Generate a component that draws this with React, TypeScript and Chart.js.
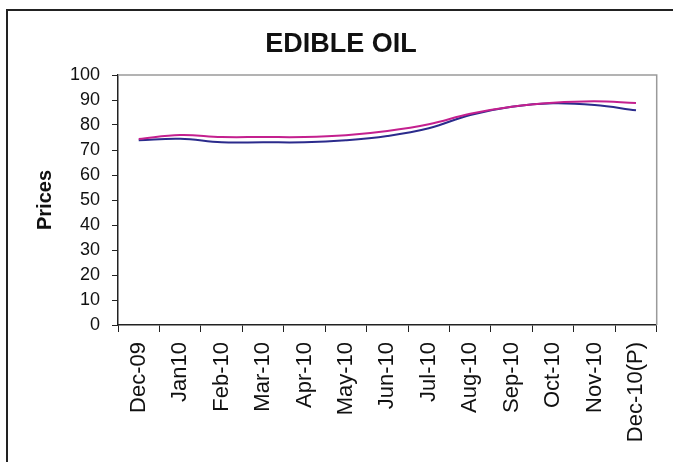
import React, { useEffect, useRef } from "react";
import { Chart, registerables } from "chart.js";

Chart.register(...registerables);

const categories = [
  "Dec-09", "Jan10", "Feb-10", "Mar-10", "Apr-10", "May-10", "Jun-10",
  "Jul-10", "Aug-10", "Sep-10", "Oct-10", "Nov-10", "Dec-10(P)",
];
const seriesBlue = [73.9, 74.5, 73.1, 73.1, 73.1, 73.9, 75.6, 78.7, 84.0, 87.3, 88.7, 88.0, 85.9];
const seriesMagenta = [74.4, 76.0, 75.2, 75.2, 75.2, 75.9, 77.6, 80.3, 84.5, 87.3, 88.9, 89.5, 88.8];
const yMin = 0;
const yMax = 100;
const yStep = 10;
const titleText = "EDIBLE OIL";
const yTitleText = "Prices";

const FONT = "'Liberation Sans', Arial, sans-serif";

const plotFrame = {
  id: "plotFrame",
  afterDatasetsDraw(chart: any) {
    const { ctx, chartArea } = chart;
    ctx.save();
    ctx.strokeStyle = "#9a9a9a";
    ctx.lineWidth = 1.5;
    ctx.beginPath();
    ctx.moveTo(chartArea.left, chartArea.top);
    ctx.lineTo(chartArea.right, chartArea.top);
    ctx.lineTo(chartArea.right, chartArea.bottom);
    ctx.stroke();
    ctx.restore();
  },
};

export default function App() {
  const ref = useRef<HTMLCanvasElement | null>(null);
  useEffect(() => {
    if (!ref.current) return;
    const chart = new Chart(ref.current, {
      type: "line",
      data: {
        labels: categories,
        datasets: [
          {
            data: seriesMagenta,
            borderColor: "#C4208F",
            borderWidth: 2,
            pointRadius: 0,
            tension: 0.4,
            fill: false,
          },
          {
            data: seriesBlue,
            borderColor: "#2B2B8C",
            borderWidth: 2,
            pointRadius: 0,
            tension: 0.4,
            fill: false,
          },
        ],
      },
      plugins: [plotFrame],
      options: {
        animation: false,
        responsive: true,
        maintainAspectRatio: false,
        layout: { padding: { left: 25, right: 16, top: 0, bottom: 0 } },
        plugins: {
          legend: { display: false },
          tooltip: { enabled: false },
          title: {
            display: true,
            text: titleText,
            color: "#111",
            font: { family: FONT, size: 27, weight: "bold" },
            padding: { top: 28, bottom: 14.6 },
          },
        },
        scales: {
          x: {
            type: "category",
            offset: true,
            grid: {
              display: true,
              drawOnChartArea: false,
              offset: true,
              tickLength: 7,
              color: "#222",
            },
            border: { display: true, color: "#222", width: 1.5 },
            ticks: {
              color: "#111",
              font: { family: FONT, size: 22 },
              minRotation: 90,
              maxRotation: 90,
              padding: 10,
              autoSkip: false,
            },
            afterFit: (s: any) => {
              s.height = 137;
            },
          },
          y: {
            min: yMin,
            max: yMax,
            grid: {
              display: true,
              drawOnChartArea: false,
              tickLength: 6,
              color: "#222",
            },
            border: { display: true, color: "#222", width: 1.5 },
            ticks: {
              stepSize: yStep,
              color: "#111",
              font: { family: FONT, size: 18 },
              padding: 12,
            },
            title: {
              display: true,
              text: yTitleText,
              color: "#111",
              font: { family: FONT, size: 20, weight: "bold" },
              padding: { top: 8, bottom: 0 },
            },
            afterFit: (s: any) => {
              s.width = 93;
            },
          },
        },
      },
    });
    return () => chart.destroy();
  }, []);

  return (
    <div style={{ position: "fixed", left: 0, top: 0, width: 673, height: 462, background: "#fff" }}>
      <div
        style={{
          position: "absolute",
          left: 6,
          top: 9,
          width: 720,
          height: 520,
          border: "2px solid #222",
          boxSizing: "border-box",
        }}
      />
      <div style={{ position: "absolute", left: 0, top: 0, width: 673, height: 462 }}>
        <canvas ref={ref} />
      </div>
    </div>
  );
}
